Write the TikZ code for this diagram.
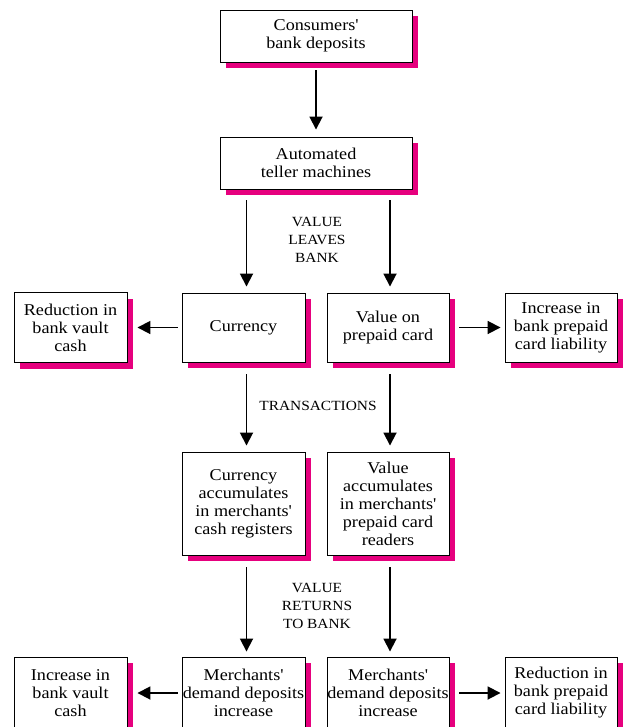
\documentclass[tikz,border=0pt]{standalone}
\usepackage{fontspec}
\setmainfont[FakeStretch=1.1]{Liberation Serif}
\usetikzlibrary{arrows.meta,shadows}
\definecolor{shadowpink}{HTML}{E6007E}
\newcommand{\apos}{\textquotesingle}
\tikzset{
  box/.style={draw=black, line width=0.9pt, fill=white, align=center,
    inner sep=0pt, font=\fontsize{16.5}{18}\selectfont,
    general shadow={fill=shadowpink, shadow xshift=6pt, shadow yshift=-6pt}},
  lbl/.style={align=center, font=\fontsize{14}{18}\selectfont},
  arr/.style={line width=1.8pt, -{Triangle[length=13pt,width=13pt]}}
}
\begin{document}
\begin{tikzpicture}[x=1pt,y=-1pt]
\useasboundingbox (0,0) rectangle (623,727);
\clip (0,0) rectangle (623,727);
\node[box, minimum width=192pt, minimum height=52pt] (dep) at (316,36) {Consumers\apos\\bank deposits};
\node[box, minimum width=192pt, minimum height=52pt] (atm) at (316,163) {Automated\\teller machines};
\node[box, minimum width=123pt, minimum height=69pt] (cur) at (243.5,327.5) {Currency};
\node[box, minimum width=113pt, minimum height=70pt] (redv) at (70.5,327.5) {Reduction in\\bank vault\\cash};
\node[box, minimum width=122pt, minimum height=69pt] (card) at (388,327.5) {Value on\\prepaid card};
\node[box, minimum width=112pt, minimum height=69pt] (incl) at (561,327.5) {Increase in\\bank prepaid\\card liability};
\node[box, minimum width=123pt, minimum height=103pt] (cacc) at (243.5,503.5) {Currency\\accumulates\\in merchants\apos\\cash registers};
\node[box, minimum width=122pt, minimum height=103pt] (vacc) at (388,503.5) {Value\\accumulates\\in merchants\apos\\prepaid card\\readers};
\node[box, minimum width=123pt, minimum height=72pt] (mdl) at (243.5,693) {Merchants\apos\\demand deposits\\increase};
\node[box, minimum width=122pt, minimum height=72pt] (mdr) at (388,693) {Merchants\apos\\demand deposits\\increase};
\node[box, minimum width=113pt, minimum height=72pt] (incv) at (70.5,693) {Increase in\\bank vault\\cash};
\node[box, minimum width=112pt, minimum height=72pt] (redl) at (561,693) {Reduction in\\bank prepaid\\card liability};

\node[lbl] (l1) at (317,240) {VALUE\\LEAVES\\BANK};
\node[lbl] (l2) at (318,406) {TRANSACTIONS};
\node[lbl] (l3) at (317,606) {VALUE\\RETURNS\\TO BANK};

\draw[arr, shorten <=8pt, shorten >=7pt] (dep) -- (atm);
\draw[arr, shorten <=11pt, shorten >=6pt] ([xshift=3pt]atm.south -| cur.north) -- ([xshift=3pt]cur.north);
\draw[arr, shorten <=11pt, shorten >=6pt] ([xshift=2pt]atm.south -| card.north) -- ([xshift=2pt]card.north);
\draw[arr, shorten <=4pt, shorten >=10pt] (cur.west) -- (redv.east);
\draw[arr, shorten <=10pt, shorten >=4pt] (card.east) -- (incl.west);
\draw[arr, shorten <=12pt, shorten >=6pt] ([xshift=3pt]cur.south) -- ([xshift=3pt]cacc.north);
\draw[arr, shorten <=12pt, shorten >=6pt] ([xshift=2pt]card.south) -- ([xshift=2pt]vacc.north);
\draw[arr, shorten <=12pt, shorten >=5pt] ([xshift=3pt]cacc.south) -- ([xshift=3pt]mdl.north);
\draw[arr, shorten <=12pt, shorten >=5pt] ([xshift=2pt]vacc.south) -- ([xshift=2pt]mdr.north);
\draw[arr, shorten <=4pt, shorten >=10pt] (mdl.west) -- (incv.east);
\draw[arr, shorten <=10pt, shorten >=4pt] (mdr.east) -- (redl.west);
\end{tikzpicture}
\end{document}
